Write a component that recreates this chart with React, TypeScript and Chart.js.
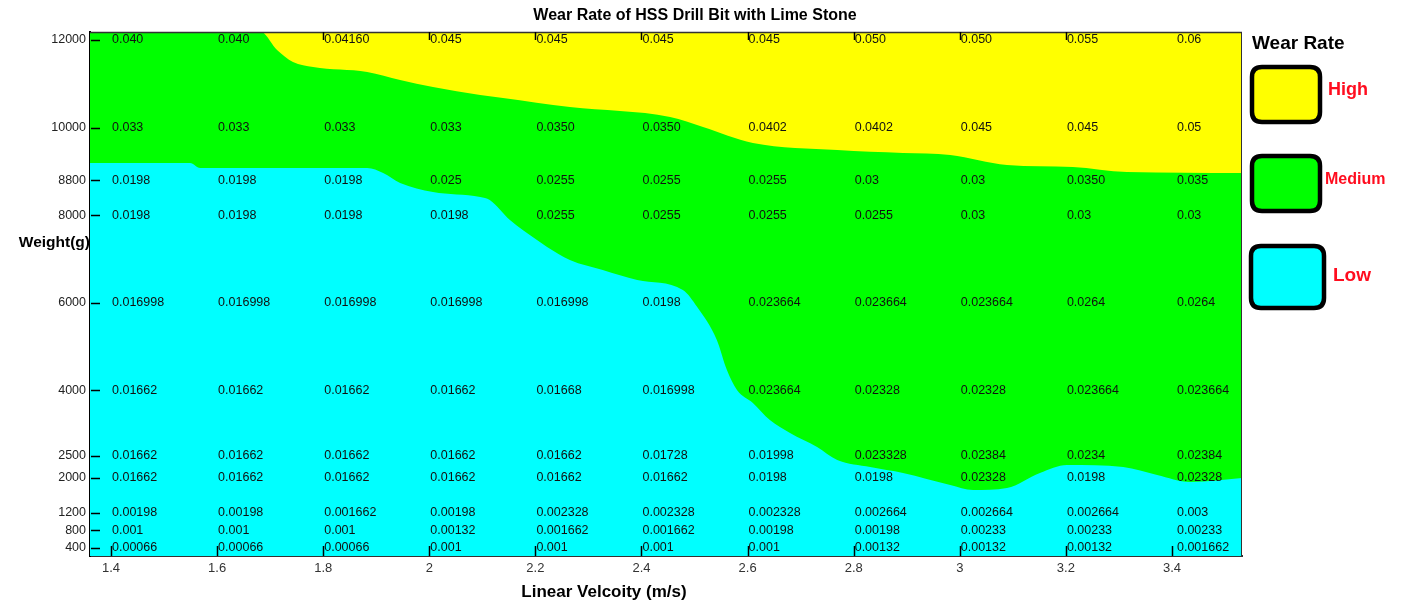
import React, { useEffect, useRef } from "react";
import { Chart, registerables } from "chart.js";

Chart.register(...registerables);

// ---- axis ticks ----
const xTicks = [1.4, 1.6, 1.8, 2, 2.2, 2.4, 2.6, 2.8, 3, 3.2, 3.4];
const yTicks = [400, 800, 1200, 2000, 2500, 4000, 6000, 8000, 8800, 10000, 12000];

// ---- wear-rate value labels (one row per weight, columns follow xTicks) ----
const row12000 = ["0.040", "0.040", "0.04160", "0.045", "0.045", "0.045", "0.045", "0.050", "0.050", "0.055", "0.06"];
const row10000 = ["0.033", "0.033", "0.033", "0.033", "0.0350", "0.0350", "0.0402", "0.0402", "0.045", "0.045", "0.05"];
const row8800 = ["0.0198", "0.0198", "0.0198", "0.025", "0.0255", "0.0255", "0.0255", "0.03", "0.03", "0.0350", "0.035"];
const row8000 = ["0.0198", "0.0198", "0.0198", "0.0198", "0.0255", "0.0255", "0.0255", "0.0255", "0.03", "0.03", "0.03"];
const row6000 = ["0.016998", "0.016998", "0.016998", "0.016998", "0.016998", "0.0198", "0.023664", "0.023664", "0.023664", "0.0264", "0.0264"];
const row4000 = ["0.01662", "0.01662", "0.01662", "0.01662", "0.01668", "0.016998", "0.023664", "0.02328", "0.02328", "0.023664", "0.023664"];
const row2500 = ["0.01662", "0.01662", "0.01662", "0.01662", "0.01662", "0.01728", "0.01998", "0.023328", "0.02384", "0.0234", "0.02384"];
const row2000 = ["0.01662", "0.01662", "0.01662", "0.01662", "0.01662", "0.01662", "0.0198", "0.0198", "0.02328", "0.0198", "0.02328"];
const row1200 = ["0.00198", "0.00198", "0.001662", "0.00198", "0.002328", "0.002328", "0.002328", "0.002664", "0.002664", "0.002664", "0.003"];
const row800 = ["0.001", "0.001", "0.001", "0.00132", "0.001662", "0.001662", "0.00198", "0.00198", "0.00233", "0.00233", "0.00233"];
const row400 = ["0.00066", "0.00066", "0.00066", "0.001", "0.001", "0.001", "0.001", "0.00132", "0.00132", "0.00132", "0.001662"];

const labelRows: [number, string[]][] = [
  [12000, row12000],
  [10000, row10000],
  [8800, row8800],
  [8000, row8000],
  [6000, row6000],
  [4000, row4000],
  [2500, row2500],
  [2000, row2000],
  [1200, row1200],
  [800, row800],
  [400, row400],
];

// ---- region boundaries (weight at which zone changes) ----
const mediumHighX = [1.36, 1.681, 1.713, 1.743, 1.781, 1.883, 1.945, 2.007, 2.096, 2.139, 2.265, 2.454, 2.516, 2.61, 2.769, 2.893, 2.982, 3.089, 3.213, 3.315, 3.532];
const mediumHighY = [12200, 12200, 11772, 11497, 11383, 11269, 11086, 10926, 10743, 10675, 10469, 10241, 10012, 9647, 9487, 9418, 9373, 9144, 9098, 8984, 8961];

const lowMediumX = [1.36, 1.549, 1.568, 1.883, 1.913, 1.945, 2.007, 2.096, 2.114, 2.152, 2.203, 2.222, 2.265, 2.327, 2.392, 2.478, 2.505, 2.542, 2.561, 2.58, 2.61, 2.642, 2.68, 2.731, 2.769, 2.831, 2.893, 2.982, 3.025, 3.089, 3.151, 3.202, 3.308, 3.372, 3.434, 3.532];
const lowMediumY = [9190, 9190, 9076, 9076, 8961, 8733, 8527, 8413, 8345, 7888, 7431, 7271, 6974, 6745, 6517, 6288, 5900, 5146, 4461, 4004, 3707, 3318, 3021, 2701, 2404, 2244, 2107, 1833, 1719, 1765, 2107, 2290, 2244, 2062, 1902, 1993];

// ---- legend ----
const legendLabels = ["High", "Medium", "Low"];
const HIGH = "#ffff00";
const MEDIUM = "#00ff00";
const LOW = "#00ffff";
const legendColors = [HIGH, MEDIUM, LOW];

const FONT = '"Liberation Sans", Arial, sans-serif';

const roundRect = (ctx: CanvasRenderingContext2D, x: number, y: number, w: number, h: number, r: number) => {
  ctx.beginPath();
  ctx.moveTo(x + r, y);
  ctx.lineTo(x + w - r, y);
  ctx.quadraticCurveTo(x + w, y, x + w, y + r);
  ctx.lineTo(x + w, y + h - r);
  ctx.quadraticCurveTo(x + w, y + h, x + w - r, y + h);
  ctx.lineTo(x + r, y + h);
  ctx.quadraticCurveTo(x, y + h, x, y + h - r);
  ctx.lineTo(x, y + r);
  ctx.quadraticCurveTo(x, y, x + r, y);
  ctx.closePath();
};

const bgPlugin = {
  id: "bgHigh",
  beforeDatasetsDraw(chart: any) {
    const { ctx, chartArea: a } = chart;
    ctx.save();
    ctx.fillStyle = HIGH;
    ctx.fillRect(a.left, a.top, a.right - a.left, a.bottom - a.top);
    ctx.restore();
  },
};

const overlayPlugin = {
  id: "overlay",
  afterDatasetsDraw(chart: any) {
    const { ctx, chartArea: a, scales } = chart;
    const xs = scales.x;
    const ys = scales.y;
    ctx.save();
    // frame (top & right)
    ctx.strokeStyle = "#333";
    ctx.lineWidth = 1.5;
    ctx.beginPath();
    ctx.moveTo(a.left, a.top + 0.5);
    ctx.lineTo(a.right, a.top + 0.5);
    ctx.stroke();
    ctx.lineWidth = 1;
    ctx.beginPath();
    ctx.moveTo(a.right - 0.5, a.top);
    ctx.lineTo(a.right - 0.5, a.bottom);
    ctx.stroke();

    // inner tick marks
    ctx.strokeStyle = "#000";
    ctx.lineWidth = 1.5;
    yTicks.forEach((v) => {
      const py = Math.round(ys.getPixelForValue(v)) + 0.5;
      ctx.beginPath();
      ctx.moveTo(a.left + 1, py);
      ctx.lineTo(a.left + 10, py);
      ctx.stroke();
    });
    xTicks.forEach((v, i) => {
      const px = Math.round(xs.getPixelForValue(v)) + 0.5;
      ctx.beginPath();
      ctx.moveTo(px, a.bottom);
      ctx.lineTo(px, a.bottom - 10);
      ctx.stroke();
      if (i >= 2 && i < xTicks.length - 1) {
        ctx.beginPath();
        ctx.moveTo(px, a.top);
        ctx.lineTo(px, a.top + 8);
        ctx.stroke();
      }
    });

    // value labels
    ctx.fillStyle = "#111";
    ctx.font = `12.5px ${FONT}`;
    ctx.textAlign = "left";
    ctx.textBaseline = "middle";
    labelRows.forEach(([w, row]) => {
      const py = ys.getPixelForValue(w);
      row.forEach((txt, i) => {
        const px = xs.getPixelForValue(xTicks[i]) + (i === xTicks.length - 1 ? 5 : 1);
        ctx.fillText(txt, px, py);
      });
    });
    ctx.restore();
  },
  afterDraw(chart: any) {
    const { ctx, chartArea: a } = chart;
    ctx.save();
    ctx.fillStyle = "#000";
    ctx.textBaseline = "middle";
    // title
    ctx.font = `bold 16px ${FONT}`;
    ctx.textAlign = "center";
    ctx.fillText("Wear Rate of HSS Drill Bit with Lime Stone", 695, 16);
    // x title
    ctx.font = `bold 17px ${FONT}`;
    ctx.fillText("Linear Velcoity (m/s)", 604, 592);
    // y title
    ctx.font = `bold 15.5px ${FONT}`;
    ctx.textAlign = "right";
    ctx.fillText("Weight(g)", a.left, 243);

    // legend
    ctx.textAlign = "left";
    ctx.font = `bold 19px ${FONT}`;
    ctx.fillText("Wear Rate", 1252, 44);
    const boxes = [
      { x: 1250, y: 65, w: 72, h: 59, tx: 1328, ty: 90, size: 18 },
      { x: 1250, y: 154, w: 72, h: 59, tx: 1325, ty: 180, size: 16 },
      { x: 1249, y: 244, w: 77, h: 66, tx: 1333, ty: 276, size: 19 },
    ];
    boxes.forEach((b, i) => {
      roundRect(ctx, b.x + 2, b.y + 2, b.w - 4, b.h - 4, 10);
      ctx.fillStyle = legendColors[i];
      ctx.fill();
      ctx.lineWidth = 4.5;
      ctx.strokeStyle = "#000";
      ctx.stroke();
      ctx.fillStyle = "#ff0d1f";
      ctx.font = `bold ${b.size}px ${FONT}`;
      ctx.fillText(legendLabels[i], b.tx, b.ty);
    });
    ctx.restore();
  },
};

export default function App() {
  const ref = useRef<HTMLCanvasElement | null>(null);

  useEffect(() => {
    if (!ref.current) return;
    const chart = new Chart(ref.current, {
      type: "line",
      data: {
        datasets: [
          {
            label: "Low",
            data: lowMediumX.map((x, i) => ({ x, y: lowMediumY[i] })),
            backgroundColor: LOW,
            borderWidth: 0,
            pointRadius: 0,
            fill: "start",
            cubicInterpolationMode: "monotone",
          },
          {
            label: "Medium",
            data: mediumHighX.map((x, i) => ({ x, y: mediumHighY[i] })),
            backgroundColor: MEDIUM,
            borderWidth: 0,
            pointRadius: 0,
            fill: "start",
            cubicInterpolationMode: "monotone",
          },
        ],
      },
      options: {
        animation: false,
        responsive: true,
        maintainAspectRatio: false,
        layout: { padding: { top: 32, right: 171, left: 0, bottom: 0 } },
        plugins: {
          legend: { display: false },
          title: { display: false },
          tooltip: { enabled: false },
        },
        events: [],
        scales: {
          x: {
            type: "linear",
            min: 1.3604,
            max: 3.532,
            afterBuildTicks: (s: any) => {
              s.ticks = xTicks.map((v) => ({ value: v }));
            },
            afterFit: (s: any) => {
              s.height = 48;
            },
            grid: { display: false, drawTicks: false, tickLength: 0 },
            border: { display: true, color: "#333", width: 2 },
            ticks: {
              autoSkip: false,
              maxRotation: 0,
              padding: 5,
              color: "#333",
              font: { family: FONT, size: 13 },
              callback: (v: any) => String(v),
            },
          },
          y: {
            type: "linear",
            min: 211,
            max: 12183,
            afterBuildTicks: (s: any) => {
              s.ticks = yTicks.map((v) => ({ value: v }));
            },
            afterFit: (s: any) => {
              s.width = 90;
            },
            grid: { display: false, drawTicks: false, tickLength: 0 },
            border: { display: true, color: "#000", width: 2 },
            ticks: {
              autoSkip: false,
              padding: 4,
              color: "#222",
              font: { family: FONT, size: 12.5 },
              callback: (v: any) => String(v),
            },
          },
        },
      },
      plugins: [bgPlugin, overlayPlugin],
    } as any);
    return () => chart.destroy();
  }, []);

  return (
    <div style={{ position: "fixed", left: 0, top: 0, width: 1413, height: 604, background: "#fff" }}>
      <canvas ref={ref} />
    </div>
  );
}
